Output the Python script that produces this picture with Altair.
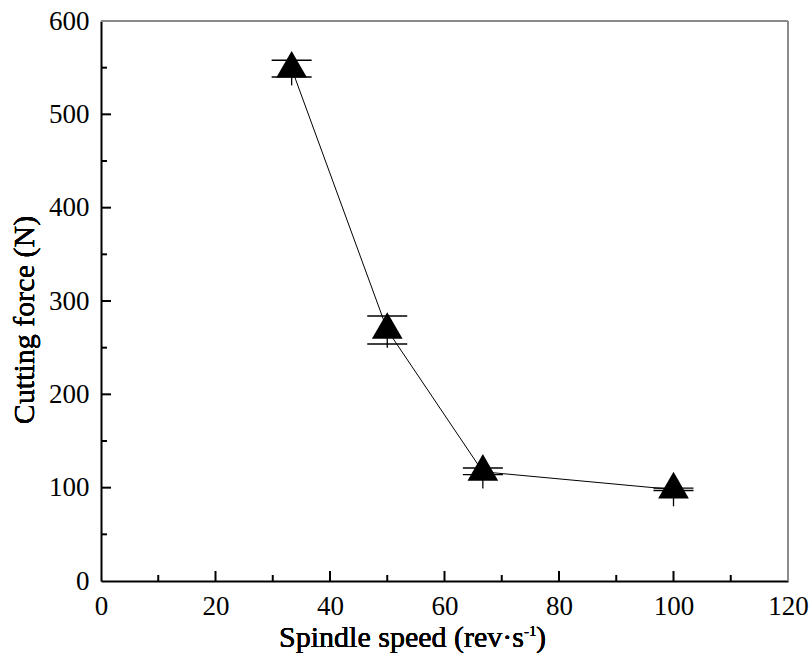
import altair as alt
import pandas as pd

# ---- data ----
speed = [33.3, 50.0, 66.7, 100.0]
force = [549, 269, 117, 98]
cap_hi = [558, 284, 121, 99.5]
cap_lo = [540, 254, 114, 97]
stem_lo = [531, 250, 99, 80]

x_major = [20, 40, 60, 80, 100]
x_minor = [10, 30, 50, 70, 90, 110]
y_major = [100, 200, 300, 400, 500]
y_minor = [50, 150, 250, 350, 450, 550]

x_labels = [0, 20, 40, 60, 80, 100, 120]
y_labels = [0, 100, 200, 300, 400, 500, 600]

W, H = 687, 560
FONT = "'Times New Roman', 'Liberation Serif', serif"

df = pd.DataFrame({"speed": speed, "force": force, "hi": cap_hi,
                   "lo": cap_lo, "stem": stem_lo})

xs = alt.Scale(domain=[0, 120], nice=False, zero=False)
ys = alt.Scale(domain=[0, 600], nice=False, zero=False)

x_enc = alt.X("speed:Q", scale=xs,
              axis=alt.Axis(values=x_labels, title=None, labelFlush=False,
                            labelPadding=12))
y_enc = alt.Y("force:Q", scale=ys,
              axis=alt.Axis(values=y_labels, title=None, labelFlush=False,
                            labelPadding=12))

base = alt.Chart(df)

line = base.mark_line(color="black", strokeWidth=1).encode(x=x_enc, y=y_enc)

stem = base.mark_rule(color="black", strokeWidth=1.3).encode(
    x="speed:Q", y="force:Q", y2="stem:Q")

cap_top = base.mark_tick(orient="horizontal", color="black", size=40,
                         thickness=1.4, opacity=1).encode(x="speed:Q", y="hi:Q")
cap_bot = base.mark_tick(orient="horizontal", color="black", size=40,
                         thickness=1.4, opacity=1).encode(x="speed:Q", y="lo:Q")

tri = "M-1,0.577L1,0.577L0,-1.155Z"
points = base.mark_point(shape=tri, filled=True, color="black", size=942,
                         opacity=1).encode(x="speed:Q", y="force:Q")

# inward ticks
xmaj = alt.Chart(pd.DataFrame({"v": x_major})).mark_rule(
    color="black", strokeWidth=2).encode(
    x=alt.X("v:Q", scale=xs), y=alt.value(H), y2=alt.value(H - 10))
xmin = alt.Chart(pd.DataFrame({"v": x_minor})).mark_rule(
    color="black", strokeWidth=2).encode(
    x=alt.X("v:Q", scale=xs), y=alt.value(H), y2=alt.value(H - 6))
ymaj = alt.Chart(pd.DataFrame({"v": y_major})).mark_rule(
    color="black", strokeWidth=2).encode(
    y=alt.Y("v:Q", scale=ys), x=alt.value(0), x2=alt.value(10))
ymin = alt.Chart(pd.DataFrame({"v": y_minor})).mark_rule(
    color="black", strokeWidth=2).encode(
    y=alt.Y("v:Q", scale=ys), x=alt.value(0), x2=alt.value(6))

# top & right frame
frame_top = alt.Chart(df).mark_rule(color="#8a8a8a", strokeWidth=1.5).encode(
    x=alt.value(0), x2=alt.value(W), y=alt.value(0))
frame_right = alt.Chart(df).mark_rule(color="#8a8a8a", strokeWidth=1.5).encode(
    x=alt.value(W), y=alt.value(0), y2=alt.value(H))

# titles
TB = 626  # baseline of x title (plot coords)
xt_main = alt.Chart(df).mark_text(
    text="Spindle speed (rev·s", font=FONT, fontSize=30, align="right",
    baseline="alphabetic", color="black").encode(x=alt.value(423), y=alt.value(TB))
xt_sup = alt.Chart(df).mark_text(
    text="-1", font=FONT, fontSize=15, align="left",
    baseline="alphabetic", color="black").encode(x=alt.value(423), y=alt.value(TB - 11))
xt_close = alt.Chart(df).mark_text(
    text=")", font=FONT, fontSize=30, align="left",
    baseline="alphabetic", color="black").encode(x=alt.value(435), y=alt.value(TB))
yt = alt.Chart(df).mark_text(
    text="Cutting force (N)", font=FONT, fontSize=30, align="center",
    baseline="middle", angle=270, color="black").encode(
    x=alt.value(-76), y=alt.value(299))

chart = alt.layer(
    line, stem, cap_top, cap_bot, points,
    xmaj, xmin, ymaj, ymin, frame_top, frame_right,
    xt_main, xt_sup, xt_close, yt,
).properties(
    width=W, height=H,
    autosize=alt.AutoSizeParams(type="none"),
    padding={"left": 101, "top": 21, "right": 24, "bottom": 87},
).configure_view(stroke=None).configure_axis(
    labelFont=FONT, labelFontSize=27, labelColor="black",
    domainColor="black", domainWidth=2, ticks=False, grid=False,
).configure_axisX(labelPadding=11)

chart.save("out.html", embed_options={"renderer": "svg", "actions": False})
